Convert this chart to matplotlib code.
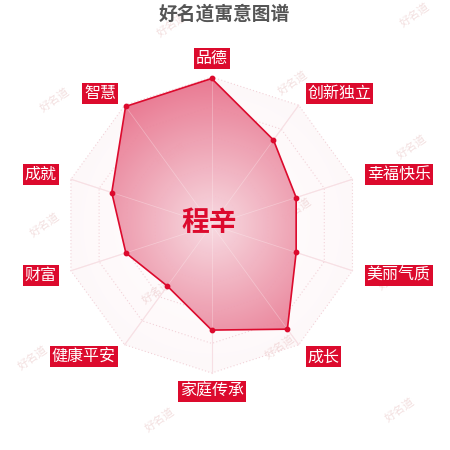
import numpy as np
import matplotlib
matplotlib.use("Agg")
import matplotlib.pyplot as plt
from matplotlib.patches import Polygon

plt.rcParams['font.family'] = ['Noto Sans CJK SC', 'DejaVu Sans']

# radar data (0-100)
categories = ['品德', '创新独立', '幸福快乐', '美丽气质', '成长',
              '家庭传承', '健康平安', '财富', '成就', '智慧']
values = [99, 71, 60, 60, 87, 71, 51, 61, 71, 99]
max_value = 100
title = '好名道寓意图谱'
name = '程辛'

red = '#dc0a2d'
n = len(categories)
theta = np.arange(n) * 2 * np.pi / n  # clockwise from top


def to_xy(r, t):
    return r * np.sin(t), r * np.cos(t)


fig = plt.figure(figsize=(4.5, 4.5), dpi=100)
ax = fig.add_axes([0, 0, 1, 1])
ax.set_xlim(-211.7 / 148, (450 - 211.7) / 148)
ax.set_ylim(-225 / 148, 225 / 148)
ax.set_aspect('auto')
ax.axis('off')

# watermarks
wm = [(172, 25), (415, 15), (55, 100), (293, 83), (412, 147), (172, 155),
      (45, 225), (297, 210), (157, 292), (393, 278), (33, 358), (280, 347),
      (160, 420), (400, 410)]
for px, py in wm:
    ax.text((px - 211.7) / 148, (225 - py) / 148, '好名道', fontsize=8,
            color='#f3e0e0', rotation=35, ha='center', va='center', zorder=1)

# radial gradient
yy, xx = np.mgrid[-1:1:300j, -1:1:300j]
rr = np.sqrt(xx ** 2 + yy ** 2)
c_in = np.array([0.97, 0.85, 0.88])
c_out = np.array([0.91, 0.45, 0.55])
grad = c_in[None, None, :] + (c_out - c_in)[None, None, :] * np.clip(rr, 0, 1)[..., None]

ox, oy = to_xy(np.ones(n), theta)
outer = Polygon(np.column_stack([ox, oy]), closed=True, facecolor='none', edgecolor='none')
ax.add_patch(outer)
bg = ax.imshow(grad, extent=(-1, 1, -1, 1), origin='lower', alpha=0.05, zorder=2)
bg.set_clip_path(outer)

# rings (dotted) and spokes
for k in range(1, 6):
    rx, ry = to_xy(np.full(n + 1, k / 5), np.append(theta, theta[0]))
    ax.plot(rx, ry, color='#f2d2d8', lw=0.8, ls=(0, (1, 2)), zorder=3)
for t in theta:
    sx, sy = to_xy(np.array([0, 1]), np.array([t, t]))
    ax.plot(sx, sy, color='#f5d5db', lw=0.8, zorder=3)

# data polygon with radial gradient
r = np.array(values) / max_value
dx, dy = to_xy(r, theta)
poly = Polygon(np.column_stack([dx, dy]), closed=True, facecolor='none',
               edgecolor=red, lw=1.2, zorder=5)
ax.add_patch(poly)
im = ax.imshow(grad, extent=(-1, 1, -1, 1), origin='lower', alpha=0.95, zorder=4)
im.set_clip_path(poly)
for t in theta:
    sx, sy = to_xy(np.array([0, 1]), np.array([t, t]))
    ax.plot(sx, sy, color='white', lw=0.6, alpha=0.3, zorder=4.5)
ax.scatter(dx, dy, s=10, color=red, zorder=6)

# axis names in red boxes
gap = 1 + 15 / 148
for lab, t in zip(categories, theta):
    lx, ly = to_xy(gap, t)
    s = np.sin(t)
    if abs(s) < 1e-6:
        ha = 'center'
        va = 'bottom' if np.cos(t) > 0 else 'top'
        ly += (-5 / 148) if np.cos(t) > 0 else (5 / 148)
    else:
        ha = 'left' if s > 0 else 'right'
        va = 'center'
    ax.text(lx, ly, lab, fontsize=11.5, color='white', ha=ha, va=va, zorder=7,
            bbox=dict(boxstyle='square,pad=0.12', facecolor=red, edgecolor='none'))

ax.text(-2.7 / 148, 2 / 148, name, fontsize=20, fontweight='bold', color=red,
        ha='center', va='center', zorder=8)

fig.text(0.498, 0.968, title, fontsize=13.5, fontweight='bold', color='#555555',
         ha='center', va='center')

fig.savefig('out.png', dpi=100)
